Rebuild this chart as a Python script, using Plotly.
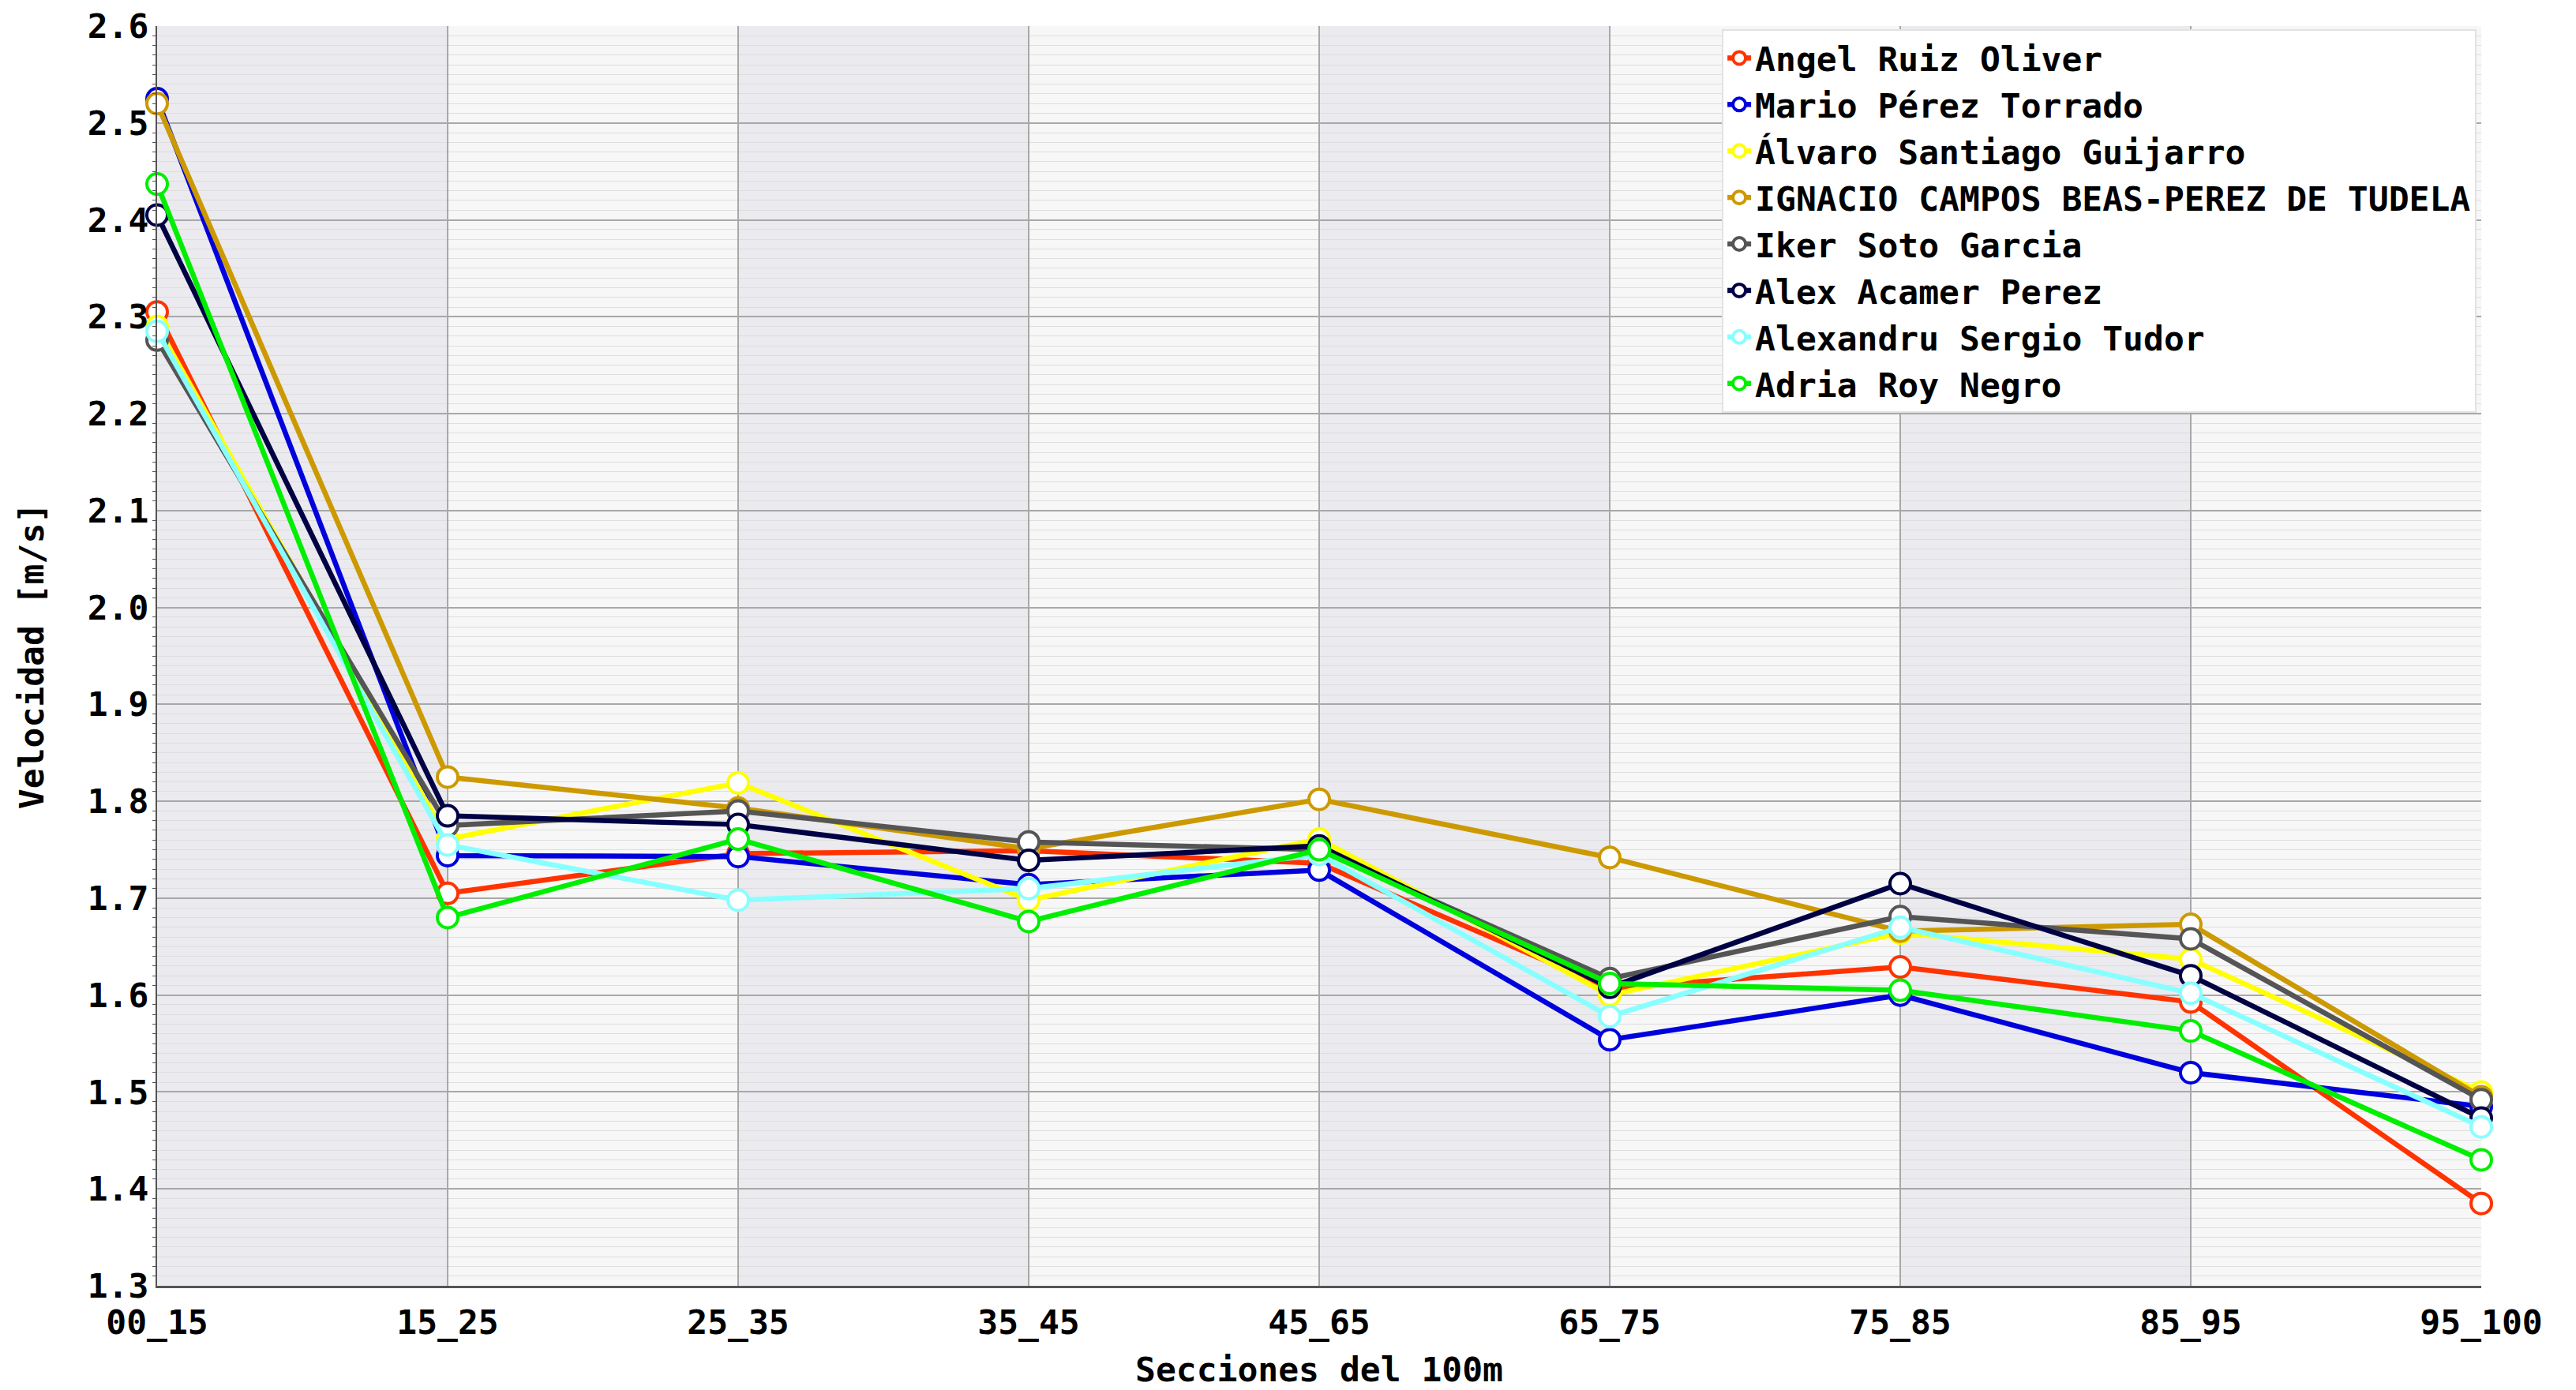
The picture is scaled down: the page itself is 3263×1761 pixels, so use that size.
import plotly.graph_objects as go

secciones = ["00_15", "15_25", "25_35", "35_45", "45_65", "65_75", "75_85", "85_95", "95_100"]

nombres = [
    "Angel Ruiz Oliver",
    "Mario Pérez Torrado",
    "Álvaro Santiago Guijarro",
    "IGNACIO CAMPOS BEAS-PEREZ DE TUDELA",
    "Iker Soto Garcia",
    "Alex Acamer Perez",
    "Alexandru Sergio Tudor",
    "Adria Roy Negro",
]

angel = [2.305, 1.705, 1.746, 1.749, 1.736, 1.607, 1.629, 1.593, 1.385]
mario = [2.525, 1.744, 1.743, 1.714, 1.729, 1.554, 1.600, 1.520, 1.485]
alvaro = [2.290, 1.761, 1.819, 1.698, 1.761, 1.600, 1.664, 1.637, 1.500]
ignacio = [2.520, 1.825, 1.793, 1.751, 1.802, 1.742, 1.666, 1.673, 1.495]
iker = [2.276, 1.775, 1.790, 1.758, 1.750, 1.617, 1.681, 1.658, 1.492]
alex = [2.405, 1.785, 1.776, 1.739, 1.754, 1.608, 1.715, 1.620, 1.473]
alexandru = [2.285, 1.755, 1.698, 1.710, 1.745, 1.578, 1.670, 1.602, 1.464]
adria = [2.437, 1.680, 1.761, 1.676, 1.750, 1.612, 1.605, 1.563, 1.430]

colores = ["#ff3300", "#0000dd", "#ffff00", "#cc9900", "#555555", "#000044", "#88ffff", "#00ee00"]

series = [angel, mario, alvaro, ignacio, iker, alex, alexandru, adria]

fuente = "DejaVu Sans Mono"

fig = go.Figure()
for nombre, valores, color in zip(nombres, series, colores):
    fig.add_trace(go.Scatter(
        x=secciones,
        y=valores,
        name=nombre,
        mode="lines+markers",
        line=dict(color=color, width=6.5),
        marker=dict(symbol="circle", size=26, color="white",
                    line=dict(color=color, width=4)),
        cliponaxis=False,
    ))

# bandas de fondo alternas entre secciones
shapes = []
for i in range(len(secciones) - 1):
    shapes.append(dict(
        type="rect", xref="x", yref="paper",
        x0=i, x1=i + 1, y0=0, y1=1,
        fillcolor="#eaeaef" if i % 2 == 0 else "#f7f7f7",
        line=dict(width=0), layer="below",
    ))

fig.update_layout(
    width=3263,
    height=1761,
    margin=dict(l=191, r=128, t=25, b=140),
    paper_bgcolor="white",
    plot_bgcolor="#f7f7f7",
    font=dict(family=fuente, size=43, color="black"),
    shapes=shapes,
    showlegend=True,
    legend=dict(
        x=0.998, y=0.9975, xanchor="right", yanchor="top",
        bgcolor="white", bordercolor="#e2e2e2", borderwidth=2,
        font=dict(family=fuente, size=43, color="black", weight="bold"),
        itemwidth=30,
        tracegroupgap=0,
    ),
)

fig.update_xaxes(
    type="category",
    range=[0, len(secciones) - 1],
    automargin=False,
    showgrid=True, gridcolor="#a8a8a8", gridwidth=1.5,
    showline=True, linecolor="#555555", linewidth=3,
    ticks="", zeroline=False, ticklabelstandoff=6,
    tickfont=dict(family=fuente, size=43, weight="bold"),
    title=dict(text="Secciones del 100m", standoff=22,
               font=dict(family=fuente, size=43, weight="bold")),
)

fig.update_yaxes(
    range=[1.3, 2.6], dtick=0.1, tickformat=".1f",
    automargin=False,
    showgrid=True, gridcolor="#a8a8a8", gridwidth=1.5,
    minor=dict(dtick=0.01, showgrid=True, gridcolor="#dedede", gridwidth=1,
               ticks="outside", ticklen=4, tickcolor="#555555"),
    showline=True, linecolor="#555555", linewidth=2,
    ticks="", zeroline=False,
    tickfont=dict(family=fuente, size=43, weight="bold"),
    title=dict(text="Velocidad [m/s]", standoff=42,
               font=dict(family=fuente, size=43, weight="bold")),
)

fig.write_html("out.html")
